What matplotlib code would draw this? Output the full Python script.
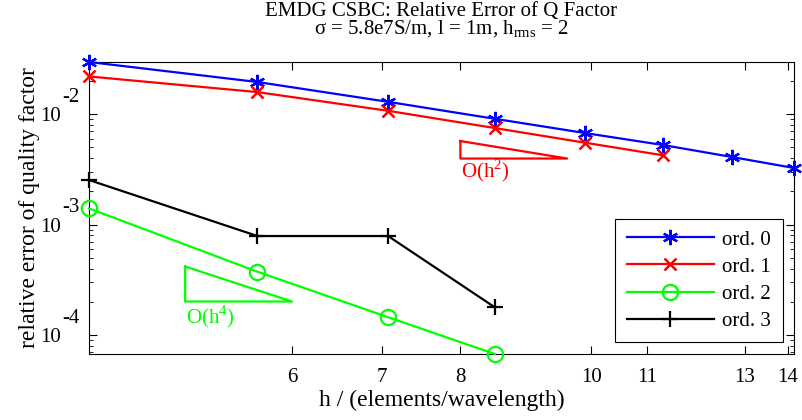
import matplotlib.pyplot as plt
import matplotlib.transforms as mtransforms
import numpy as np

plt.rcParams['font.family'] = ['Liberation Serif', 'DejaVu Serif']
plt.rcParams['font.size'] = 15
plt.rcParams['mathtext.fontset'] = 'custom'
plt.rcParams['mathtext.rm'] = 'Liberation Serif'

# elements per wavelength (3*sqrt(2) ... 10*sqrt(2))
h = np.sqrt(2) * np.array([3, 4, 5, 6, 7, 8, 9, 10])

err0 = [2.96e-2, 1.95e-2, 1.29e-2, 9.06e-3, 6.73e-3, 5.24e-3, 4.08e-3, 3.25e-3]
err1 = [2.19e-2, 1.58e-2, 1.07e-2, 7.47e-3, 5.50e-3, 4.23e-3]
err2 = [1.40e-3, 3.74e-4, 1.45e-4, 6.73e-5]
err3 = [2.53e-3, 7.87e-4, 7.87e-4, 1.78e-4]

labels = ["ord. 0", "ord. 1", "ord. 2", "ord. 3"]
xticks = [6, 7, 8, 10, 11, 13, 14]

fig = plt.figure(figsize=(8.03, 4.2), dpi=100)
ax = fig.add_axes([0.1108, 0.1571, 0.878, 0.6953])

ax.loglog(h[:len(err0)], err0, color=(0, 0, 1), lw=1.6, marker=(6, 2, 0), ms=11, mew=1.6, label=labels[0], clip_on=False, zorder=3)
ax.loglog(h[:len(err1)], err1, color=(1, 0, 0), lw=1.6, marker='x', ms=9, mew=1.8, label=labels[1], clip_on=False, zorder=3)
ax.loglog(h[:len(err2)], err2, color=(0, 1, 0), lw=1.6, marker='o', ms=11, mew=1.6, mfc='none', label=labels[2], clip_on=False, zorder=3)
ax.loglog(h[:len(err3)], err3, color='k', lw=1.6, marker='+', ms=12, mew=1.6, label=labels[3], clip_on=False, zorder=3)

# convergence-rate triangles
r2 = (8 / 9.6) ** 2
ax.plot([8, 8, 9.6, 8], [5.7e-3, 5.7e-3 * r2, 5.7e-3 * r2, 5.7e-3], color=(1, 0, 0), lw=1.6)
ax.text(8.01, 3.05e-3, r'O(h$^2$)', color=(1, 0, 0), ha='left', va='center')
r4 = (5 / 6) ** 4
ax.plot([5, 5, 6, 5], [4.17e-4, 4.17e-4 * r4, 4.17e-4 * r4, 4.17e-4], color=(0, 1, 0), lw=1.6)
ax.text(5.01, 1.48e-4, r'O(h$^4$)', color=(0, 1, 0), ha='left', va='center')

ax.set_xlim(h[0], h[-1])
ax.set_ylim(6.73e-5, 2.96e-2)
ax.set_xticks(xticks)
ax.set_xticklabels([str(t) for t in xticks])
ax.xaxis.set_minor_locator(plt.NullLocator())
ax.set_yticks([1e-4, 1e-3, 1e-2])
ax.set_yticklabels(['10', '10', '10'])
ax.tick_params(which='both', direction='in', top=True, right=True)
ax.tick_params(which='major', length=6, pad=20)
ax.tick_params(which='minor', length=3)
ax.tick_params(axis='x', which='major', pad=10)

# exponents drawn MATLAB-style above the "10"
blend = mtransforms.blended_transform_factory(ax.transAxes, ax.transData)
for yv, ex in zip([1e-4, 1e-3, 1e-2], ['-4', '-3', '-2']):
    off = mtransforms.offset_copy(blend, fig=fig, x=-9, y=17, units='dots')
    ax.text(0, yv, ex, transform=off, ha='right', va='center')

ax.set_xlabel('h / (elements/wavelength)', fontsize=17, labelpad=2)
ax.set_ylabel('relative error of quality factor', fontsize=17, labelpad=0)
ax.set_title('EMDG CSBC: Relative Error of Q Factor\n'
             '\u03c3 = 5.8e7S/m, l = 1m, h$_{\\mathrm{rms}}$ = 2',
             fontsize=15, linespacing=0.85, pad=20)

leg = ax.legend(loc='lower right', bbox_to_anchor=(0.984, 0.04), handlelength=4.2,
                fancybox=False, edgecolor='k', framealpha=1, borderpad=0.55,
                labelspacing=0.36, handletextpad=0.4, borderaxespad=0)
leg.get_frame().set_linewidth(0.8)

for s in ax.spines.values():
    s.set_linewidth(0.8)

fig.savefig('out.png', dpi=100)
